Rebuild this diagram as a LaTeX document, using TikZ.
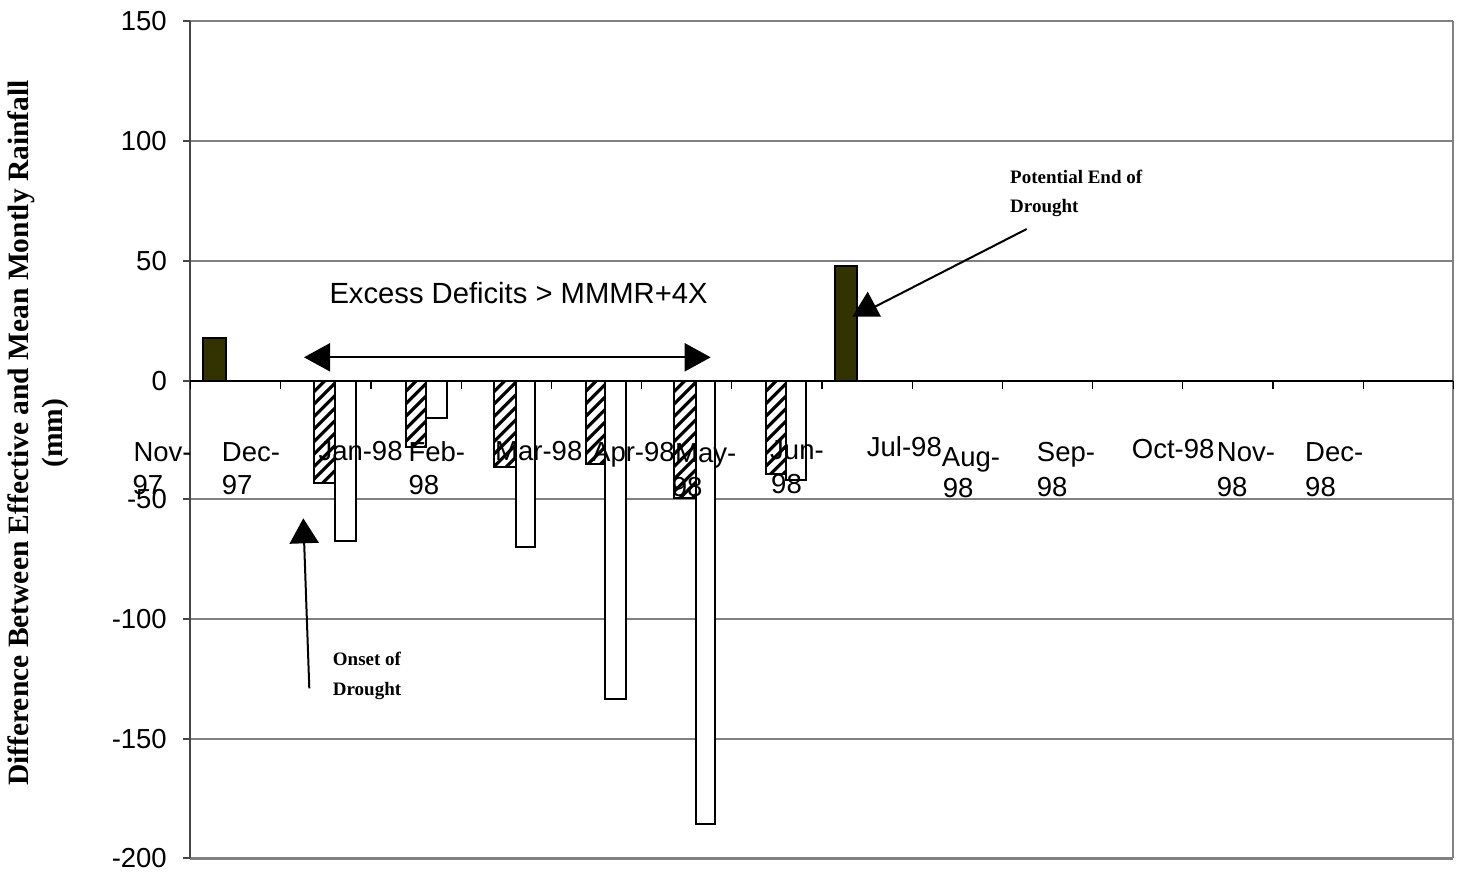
\documentclass[tikz,border=0pt]{standalone}
\usepackage{fontspec}
\setmainfont{Liberation Serif}
\newfontfamily\arialf{Liberation Sans}
\usetikzlibrary{arrows.meta}
\definecolor{olivedark}{RGB}{51,51,0}
\definecolor{gridgray}{RGB}{128,128,128}
\definecolor{axisgray}{RGB}{70,70,70}
\newcommand\hatchbar[3]{%
  \begin{scope}
    \clip (#1,381) rectangle (#2,#3);
    \foreach \k in {-6,...,40}
      \draw[line width=3.2pt] (#1-2,381+\k*12.5) -- ++(26,-26);
  \end{scope}
  \draw[barline] (#1,381) rectangle (#2,#3);
}
\begin{document}
\begin{tikzpicture}[x=1pt,y=-1pt,
  gridln/.style={draw=gridgray,line width=1.4pt},
  barline/.style={draw=black,line width=2pt},
  darkbar/.style={fill=olivedark,draw=black,line width=2pt},
  whitebar/.style={fill=white,draw=black,line width=2pt},
  ticklab/.style={font=\arialf\fontsize{27.5}{32}\selectfont,anchor=east,inner sep=0pt},
  mlab/.style={font=\arialf\fontsize{27.5}{32}\selectfont,anchor=base west,inner sep=0pt},
  note/.style={font=\bfseries\fontsize{19}{29}\selectfont,anchor=base west,inner sep=0pt},
  ytitle/.style={font=\bfseries\fontsize{29.5}{33}\selectfont,rotate=90,anchor=base,inner sep=0pt},
  arrowln/.style={draw=black,line width=2pt}]
\useasboundingbox (0,0) rectangle (1461,873);
\fill[white] (0,0) rectangle (1461,873);

% grid lines and plot border
\foreach \gy in {21,141,261,499,619,739,858}
  \draw[gridln] (190,\gy) -- (1453,\gy);
\draw[gridln] (1453,21) -- (1453,858);
\draw[gridln] (190,859.5) -- (1453,859.5);
% left axis with ticks
\draw[draw=axisgray,line width=1.8pt] (190,21) -- (190,858);
\foreach \gy in {21,141,261,381,499,619,739,858}
  \draw[draw=axisgray,line width=1.4pt] (183,\gy) -- (190,\gy);

% bars
\draw[darkbar] (203.3,381) rectangle (225.5,338);
\draw[darkbar] (835,381) rectangle (856.7,265.7);
\hatchbar{314.2}{335.2}{482.7}
\draw[whitebar] (335.2,381) rectangle (355.7,541);
\hatchbar{405.7}{425.5}{446.7}
\draw[whitebar] (425.5,381) rectangle (446.7,418.3);
\hatchbar{494}{515.5}{466.7}
\draw[whitebar] (515.5,381) rectangle (535,546.7);
\hatchbar{585.5}{604.5}{464.3}
\draw[whitebar] (604.5,381) rectangle (626,699);
\hatchbar{674}{695.5}{498}
\draw[whitebar] (695.5,381) rectangle (715,824.3);
\hatchbar{765.5}{785.5}{474.3}
\draw[whitebar] (785.5,381) rectangle (806,480);

% x axis with ticks
\draw[draw=black,line width=1.5pt] (190,381) -- (1453,381);
\foreach \i in {0,...,14}
  \draw[draw=black,line width=1.2pt] ({190.5+90.2*\i},381) -- ({190.5+90.2*\i},389);

% y tick labels
\node[ticklab] (t150) at (167,21) {150};
\node[ticklab] (t100) at (167,141) {100};
\node[ticklab] (t50) at (167,261) {50};
\node[ticklab] (t0) at (167,381) {0};
\node[ticklab] (tm50) at (167,499) {-50};
\node[ticklab] (tm100) at (167,619) {-100};
\node[ticklab] (tm150) at (167,739) {-150};
\node[ticklab] (tm200) at (167,858) {-200};

% month labels
\node[mlab] (nov97a) at (133.3,461.7) {Nov-};
\node[mlab] (nov97b) at (132.5,494.3) {97};
\node[mlab] (dec97a) at (221.7,461.7) {Dec-};
\node[mlab] (dec97b) at (221.7,494.3) {97};
\node[mlab] (jan98) at (318.3,460) {Jan-98};
\node[mlab] (feb98a) at (408.3,461.7) {Feb-};
\node[mlab] (feb98b) at (408.3,494.3) {98};
\node[mlab] (mar98) at (495,460) {Mar-98};
\node[mlab] (apr98) at (592,461.7) {Apr-98};
\node[mlab] (may98a) at (675,462.5) {May-};
\node[mlab] (may98b) at (671.7,496.7) {98};
\node[mlab] (jun98a) at (770,459.5) {Jun-};
\node[mlab] (jun98b) at (771,493) {98};
\node[mlab] (jul98) at (866.7,456.7) {Jul-98};
\node[mlab] (aug98a) at (941.7,466) {Aug-};
\node[mlab] (aug98b) at (942.7,497.3) {98};
\node[mlab] (sep98a) at (1036.7,461.7) {Sep-};
\node[mlab] (sep98b) at (1036.7,496) {98};
\node[mlab] (oct98) at (1131.7,458.3) {Oct-98};
\node[mlab] (nov98a) at (1216.7,461.7) {Nov-};
\node[mlab] (nov98b) at (1216.7,496) {98};
\node[mlab] (dec98a) at (1305,461.7) {Dec-};
\node[mlab] (dec98b) at (1305,496) {98};

% y axis title
\node[ytitle] (ytitleA) at (28,433) {Difference Between Effective and Mean Montly Rainfall};
\node[ytitle] (ytitleB) at (62,433) {(mm)};

% excess deficits annotation
\node[font=\arialf\fontsize{29.2}{32}\selectfont,anchor=base west,inner sep=0pt] (excess) at (329.3,303.3) {Excess Deficits > MMMR+4X};
\coordinate (hzL) at (304,357.3);
\coordinate (hzR) at (710.7,357.3);
\draw[arrowln,{Triangle[length=26pt,width=28pt]}-{Triangle[length=26pt,width=28pt]}] (hzL) -- (hzR);

% onset of drought
\node[note] (onsetA) at (332.7,665.7) {Onset of};
\node[note] (onsetB) at (332.7,695) {Drought};
\coordinate (osS) at (309.3,688.3);
\coordinate (osE) at (303.3,518.3);
\draw[arrowln,-{Triangle[length=25pt,width=29pt]}] (osS) -- (osE);

% potential end of drought
\node[note] (endA) at (1010,183.3) {Potential End of};
\node[note] (endB) at (1010,212.3) {Drought};
\coordinate (peS) at (1026.7,229);
\coordinate (peE) at (875,306.7);
\draw[arrowln] (peS) -- (peE);
\fill[black] (867.7,291.7) -- (852.3,316.7) -- (881,316.7) -- cycle;
\end{tikzpicture}
\end{document}
